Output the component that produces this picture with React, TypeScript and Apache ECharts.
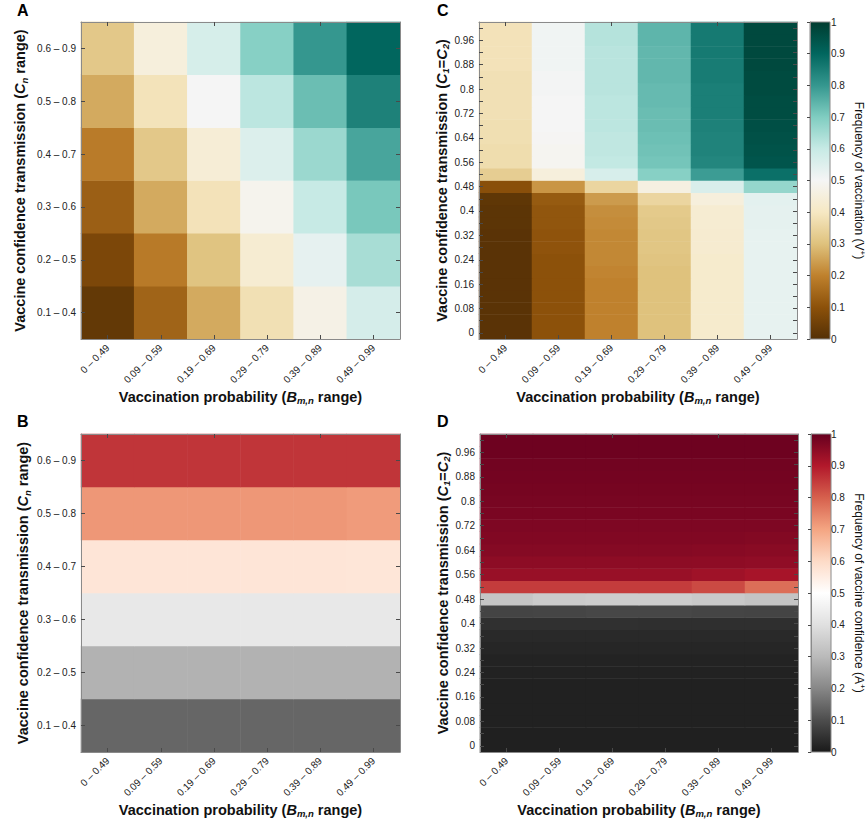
import React, { useEffect, useRef } from 'react';
import * as echarts from 'echarts';

// ---------- data ----------
const xCats = ['0 \u2013 0.49', '0.09 \u2013 0.59', '0.19 \u2013 0.69', '0.29 \u2013 0.79', '0.39 \u2013 0.89', '0.49 \u2013 0.99'];
const yCatsAB = ['0.1 \u2013 0.4', '0.2 \u2013 0.5', '0.3 \u2013 0.6', '0.4 \u2013 0.7', '0.5 \u2013 0.8', '0.6 \u2013 0.9'];
const yCatsCD = ['0', '0.04', '0.08', '0.12', '0.16', '0.2', '0.24', '0.28', '0.32', '0.36', '0.4', '0.44', '0.48', '0.52', '0.56', '0.6', '0.64', '0.68', '0.72', '0.76', '0.8', '0.84', '0.88', '0.92', '0.96', '1'];

// rows listed bottom -> top, columns left -> right
const valuesA = [
  [0.027, 0.139, 0.263, 0.378, 0.47, 0.57],
  [0.071, 0.186, 0.305, 0.43, 0.533, 0.644],
  [0.13, 0.263, 0.385, 0.484, 0.6, 0.71],
  [0.188, 0.317, 0.438, 0.554, 0.662, 0.775],
  [0.263, 0.387, 0.5, 0.615, 0.728, 0.844],
  [0.317, 0.45, 0.567, 0.69, 0.8, 0.9],
];

const valuesB = [
  [0.143, 0.143, 0.143, 0.143, 0.143, 0.143],
  [0.284, 0.284, 0.284, 0.284, 0.284, 0.284],
  [0.426, 0.426, 0.426, 0.426, 0.426, 0.426],
  [0.572, 0.572, 0.572, 0.572, 0.572, 0.57],
  [0.72, 0.72, 0.72, 0.72, 0.72, 0.714],
  [0.86, 0.86, 0.86, 0.86, 0.86, 0.86],
];

const valuesC = [
  [0.01, 0.1, 0.2, 0.3, 0.42, 0.53],
  [0.01, 0.1, 0.2, 0.3, 0.42, 0.53],
  [0.01, 0.1, 0.2, 0.3, 0.42, 0.53],
  [0.01, 0.1, 0.2, 0.3, 0.42, 0.53],
  [0.01, 0.1, 0.2, 0.3, 0.42, 0.53],
  [0.01, 0.1, 0.205, 0.3, 0.42, 0.53],
  [0.01, 0.1, 0.21, 0.305, 0.42, 0.53],
  [0.01, 0.105, 0.21, 0.31, 0.425, 0.53],
  [0.01, 0.105, 0.21, 0.31, 0.425, 0.53],
  [0.015, 0.11, 0.215, 0.315, 0.43, 0.535],
  [0.015, 0.11, 0.22, 0.32, 0.43, 0.535],
  [0.02, 0.12, 0.24, 0.35, 0.45, 0.54],
  [0.095, 0.23, 0.35, 0.46, 0.56, 0.67],
  [0.33, 0.45, 0.565, 0.69, 0.79, 0.88],
  [0.37, 0.49, 0.605, 0.715, 0.835, 0.94],
  [0.37, 0.49, 0.61, 0.72, 0.84, 0.945],
  [0.375, 0.495, 0.61, 0.725, 0.84, 0.95],
  [0.375, 0.5, 0.615, 0.73, 0.845, 0.955],
  [0.38, 0.5, 0.615, 0.73, 0.85, 0.96],
  [0.38, 0.5, 0.615, 0.735, 0.85, 0.96],
  [0.38, 0.505, 0.62, 0.735, 0.85, 0.965],
  [0.38, 0.505, 0.62, 0.74, 0.855, 0.965],
  [0.385, 0.51, 0.62, 0.74, 0.855, 0.97],
  [0.385, 0.51, 0.62, 0.74, 0.86, 0.97],
  [0.385, 0.51, 0.625, 0.745, 0.86, 0.97],
  [0.385, 0.51, 0.625, 0.745, 0.86, 0.97],
];

const valuesD = [
  [0.012, 0.012, 0.012, 0.012, 0.012, 0.012],
  [0.012, 0.012, 0.012, 0.012, 0.012, 0.012],
  [0.013, 0.013, 0.013, 0.013, 0.013, 0.013],
  [0.013, 0.013, 0.013, 0.013, 0.013, 0.013],
  [0.014, 0.014, 0.014, 0.014, 0.014, 0.014],
  [0.014, 0.014, 0.014, 0.014, 0.014, 0.014],
  [0.015, 0.015, 0.015, 0.015, 0.015, 0.015],
  [0.018, 0.018, 0.018, 0.018, 0.018, 0.018],
  [0.023, 0.023, 0.023, 0.023, 0.023, 0.023],
  [0.029, 0.029, 0.029, 0.029, 0.029, 0.029],
  [0.043, 0.043, 0.043, 0.041, 0.041, 0.041],
  [0.082, 0.085, 0.088, 0.088, 0.085, 0.082],
  [0.33, 0.345, 0.35, 0.35, 0.34, 0.325],
  [0.85, 0.85, 0.85, 0.85, 0.83, 0.78],
  [0.935, 0.935, 0.935, 0.935, 0.925, 0.915],
  [0.95, 0.95, 0.95, 0.95, 0.948, 0.945],
  [0.96, 0.96, 0.96, 0.96, 0.958, 0.955],
  [0.965, 0.965, 0.965, 0.965, 0.965, 0.963],
  [0.97, 0.97, 0.97, 0.97, 0.97, 0.97],
  [0.975, 0.975, 0.975, 0.975, 0.975, 0.975],
  [0.977, 0.977, 0.977, 0.977, 0.977, 0.977],
  [0.98, 0.98, 0.98, 0.98, 0.98, 0.98],
  [0.982, 0.982, 0.982, 0.982, 0.982, 0.982],
  [0.985, 0.985, 0.985, 0.985, 0.985, 0.985],
  [0.99, 0.99, 0.99, 0.99, 0.99, 0.99],
  [0.99, 0.99, 0.99, 0.99, 0.99, 0.99],
];

// colormaps (value 0 -> 1)
const BrBG = ['#543005', '#8c510a', '#bf812d', '#dfc27d', '#f6e8c3', '#f5f5f5', '#c7eae5', '#80cdc1', '#35978f', '#01665e', '#003c30'];
const RdGyR = ['#1a1a1a', '#4d4d4d', '#878787', '#bababa', '#e0e0e0', '#ffffff', '#fddbc7', '#f4a582', '#d6604d', '#b2182b', '#67001f'];

// ---------- helpers ----------
const FONT = '"Liberation Sans", Arial, Helvetica, sans-serif';
const BOX = '#8a8a8a';
const TICK = '#4a4a4a';
const LABEL = '#222';

function toHeat(rows: number[][]) {
  const out: number[][] = [];
  rows.forEach((row, yi) => row.forEach((v, xi) => out.push([xi, yi, v])));
  return out;
}

const TS = 14.5;
const titleStyle = (size: number) => ({
  fontSize: size,
  fontWeight: 'bold',
  color: '#111',
  fontFamily: FONT,
  lineHeight: 18,
  rich: {
    i: { fontSize: size, fontWeight: 'bold', fontStyle: 'italic', fontFamily: FONT, color: '#111', lineHeight: 18 },
    s: { fontSize: 9.5, fontWeight: 'bold', fontStyle: 'italic', fontFamily: FONT, color: '#111', lineHeight: 9, verticalAlign: 'bottom' },
  },
});

const cbStyle = {
  fontSize: 12,
  color: '#111',
  fontFamily: FONT,
  lineHeight: 15,
  rich: {
    p: { fontSize: 8, fontFamily: FONT, color: '#111', lineHeight: 8, verticalAlign: 'top' },
  },
};

function xAxes(grid: number, nameGap: number) {
  return [
    {
      type: 'category', gridIndex: grid, data: xCats, position: 'bottom', z: 5,
      axisLine: { show: true, lineStyle: { color: BOX, width: 1 } },
      axisTick: { show: true, inside: true, alignWithLabel: true, length: 4, lineStyle: { color: TICK } },
      axisLabel: { rotate: 45, fontSize: 10, color: LABEL, margin: 7, fontFamily: FONT, interval: 0 },
      splitLine: { show: false },
      name: 'Vaccination probability ({i|B}{s|m,n} range)',
      nameLocation: 'middle', nameGap, nameTextStyle: titleStyle(TS),
    },
    {
      type: 'category', gridIndex: grid, data: xCats, position: 'top', z: 5,
      axisLine: { show: true, lineStyle: { color: BOX, width: 1 } },
      axisTick: { show: true, inside: true, alignWithLabel: true, length: 4, lineStyle: { color: TICK } },
      axisLabel: { show: false },
      splitLine: { show: false },
    },
  ];
}

function yAxes(grid: number, cats: string[], labelInterval: number, name: string, nameGap: number) {
  return [
    {
      type: 'category', gridIndex: grid, data: cats, position: 'left', z: 5,
      axisLine: { show: true, lineStyle: { color: BOX, width: 1 } },
      axisTick: { show: true, inside: true, alignWithLabel: true, length: 4, interval: 0, lineStyle: { color: TICK } },
      axisLabel: { fontSize: 10, color: LABEL, margin: 5, fontFamily: FONT, interval: labelInterval },
      splitLine: { show: false },
      name, nameLocation: 'middle', nameGap, nameRotate: 90, nameTextStyle: titleStyle(TS),
    },
    {
      type: 'category', gridIndex: grid, data: cats, position: 'right', z: 5,
      axisLine: { show: true, lineStyle: { color: BOX, width: 1 } },
      axisTick: { show: true, inside: true, alignWithLabel: true, length: 4, interval: 0, lineStyle: { color: TICK } },
      axisLabel: { show: false },
      splitLine: { show: false },
    },
  ];
}

function cbAxes(grid: number, name: string) {
  return {
    x: { type: 'value', gridIndex: grid, show: false, min: 0, max: 1 },
    y: {
      type: 'value', gridIndex: grid, position: 'right', min: 0, max: 1, interval: 0.1, z: 5,
      axisLine: { show: true, lineStyle: { color: BOX, width: 1 } },
      axisTick: { show: true, inside: true, length: 3, lineStyle: { color: TICK } },
      axisLabel: { fontSize: 10, color: LABEL, margin: 5, fontFamily: FONT, formatter: (v: number) => String(+v.toFixed(1)) },
      splitLine: { show: false },
      name, nameLocation: 'middle', nameGap: 25, nameRotate: -90, nameTextStyle: cbStyle,
    },
  };
}

const G = {
  A: { left: 81, top: 22, width: 319, height: 317 },
  C: { left: 479, top: 22, width: 318, height: 317 },
  B: { left: 81, top: 434, width: 319, height: 318 },
  D: { left: 480, top: 434, width: 318, height: 318 },
  cbC: { left: 810, top: 22, width: 20, height: 317 },
  cbD: { left: 811, top: 434, width: 20, height: 318 },
};

function gradient(colors: string[]) {
  const n = colors.length - 1;
  // top of bar = value 1
  return new echarts.graphic.LinearGradient(0, 0, 0, 1,
    colors.map((c, i) => ({ offset: 1 - i / n, color: c })).reverse());
}

export default function App() {
  const ref = useRef<HTMLDivElement>(null);
  useEffect(() => {
    if (!ref.current) return;
    const chart = echarts.init(ref.current, undefined, { renderer: 'svg' });
    const yNameAB = 'Vaccine confidence transmission ({i|C}{s|n} range)';
    const yNameCD = 'Vaccine confidence transmission ({i|C}{s|1}={i|C}{s|2})';

    const xA = xAxes(0, 47), xC = xAxes(1, 47), xB = xAxes(2, 46), xD = xAxes(3, 46);
    const yA = yAxes(0, yCatsAB, 0, yNameAB, 52), yC = yAxes(1, yCatsCD, 1, yNameCD, 28);
    const yB = yAxes(2, yCatsAB, 0, yNameAB, 49), yD = yAxes(3, yCatsCD, 1, yNameCD, 28);
    const cbC = cbAxes(4, 'Frequency of vaccination (V{p|+})');
    const cbD = cbAxes(5, 'Frequency of vaccine confidence (A{p|+})');

    const option: any = {
      animation: false,
      backgroundColor: '#ffffff',
      textStyle: { fontFamily: FONT },
      grid: [G.A, G.C, G.B, G.D, G.cbC, G.cbD].map((g) => ({ ...g, containLabel: false })),
      // x axis indices: A 0,1 | C 2,3 | B 4,5 | D 6,7 | cbC 8 | cbD 9
      xAxis: [...xA, ...xC, ...xB, ...xD, cbC.x, cbD.x],
      yAxis: [...yA, ...yC, ...yB, ...yD, cbC.y, cbD.y],
      visualMap: [
        { type: 'continuous', show: false, seriesIndex: 0, dimension: 2, min: 0, max: 1, inRange: { color: BrBG } },
        { type: 'continuous', show: false, seriesIndex: 1, dimension: 2, min: 0, max: 1, inRange: { color: BrBG } },
        { type: 'continuous', show: false, seriesIndex: 2, dimension: 2, min: 0, max: 1, inRange: { color: RdGyR } },
        { type: 'continuous', show: false, seriesIndex: 3, dimension: 2, min: 0, max: 1, inRange: { color: RdGyR } },
      ],
      series: [
        { type: 'heatmap', xAxisIndex: 0, yAxisIndex: 0, data: toHeat(valuesA), emphasis: { disabled: true } },
        { type: 'heatmap', xAxisIndex: 2, yAxisIndex: 2, data: toHeat(valuesC), emphasis: { disabled: true } },
        { type: 'heatmap', xAxisIndex: 4, yAxisIndex: 4, data: toHeat(valuesB), emphasis: { disabled: true } },
        { type: 'heatmap', xAxisIndex: 6, yAxisIndex: 6, data: toHeat(valuesD), emphasis: { disabled: true } },
      ],
      graphic: [
        { type: 'rect', z: 0, shape: { x: G.cbC.left, y: G.cbC.top, width: G.cbC.width, height: G.cbC.height }, style: { fill: gradient(BrBG), stroke: BOX, lineWidth: 1 } },
        { type: 'rect', z: 0, shape: { x: G.cbD.left, y: G.cbD.top, width: G.cbD.width, height: G.cbD.height }, style: { fill: gradient(RdGyR), stroke: BOX, lineWidth: 1 } },
        { type: 'text', left: 17, top: 2, style: { text: 'A', fontSize: 16, fontWeight: 'bold', fontFamily: FONT, fill: '#000' } },
        { type: 'text', left: 437, top: 2, style: { text: 'C', fontSize: 16, fontWeight: 'bold', fontFamily: FONT, fill: '#000' } },
        { type: 'text', left: 17, top: 413, style: { text: 'B', fontSize: 16, fontWeight: 'bold', fontFamily: FONT, fill: '#000' } },
        { type: 'text', left: 437, top: 413, style: { text: 'D', fontSize: 16, fontWeight: 'bold', fontFamily: FONT, fill: '#000' } },
      ],
    };
    chart.setOption(option);
    return () => chart.dispose();
  }, []);
  return (
    <div
      ref={ref}
      style={{ position: 'fixed', left: 0, top: 0, width: 867, height: 822, background: '#fff' }}
    />
  );
}
